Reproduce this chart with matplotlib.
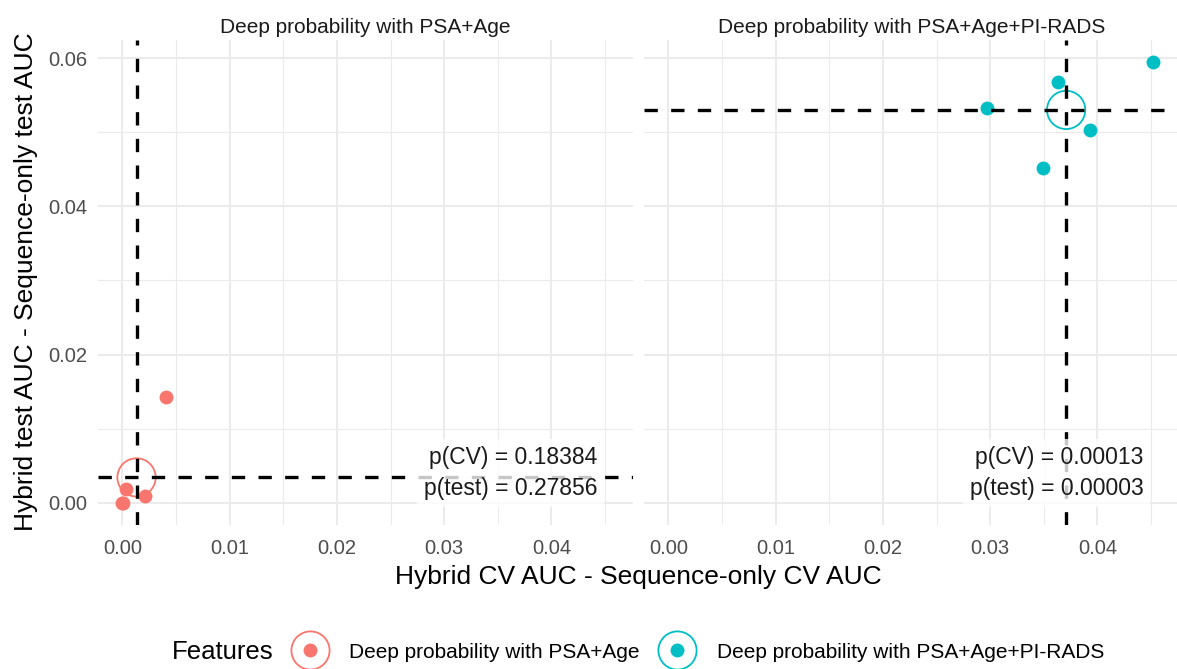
import matplotlib
matplotlib.use("Agg")
import matplotlib.pyplot as plt
from matplotlib.lines import Line2D
import numpy as np

plt.rcParams['font.family'] = ['Liberation Sans', 'DejaVu Sans']

# facet titles / legend labels
features = ['Deep probability with PSA+Age', 'Deep probability with PSA+Age+PI-RADS']
colors = ['#F8766D', '#00BFC4']

# per-fold AUC differences (hybrid minus sequence-only)
cv_diff_age = [0.0000, 0.0001, 0.0003, 0.0021, 0.0041]
test_diff_age = [0.0000, 0.0000, 0.0019, 0.0009, 0.0143]
cv_diff_pirads = [0.0297, 0.0349, 0.0363, 0.0393, 0.0452]
test_diff_pirads = [0.0533, 0.0452, 0.0567, 0.0503, 0.0595]

p_cv = ['0.18384', '0.00013']
p_test = ['0.27856', '0.00003']

x_ticks = [0.00, 0.01, 0.02, 0.03, 0.04]
y_ticks = [0.00, 0.02, 0.04, 0.06]

W, H = 1177, 669
fig = plt.figure(figsize=(W / 100, H / 100), dpi=100)

panel_left = [98, 644]
panel_w = 535
panel_top, panel_bot = 39.5, 525

cv_all = [cv_diff_age, cv_diff_pirads]
test_all = [test_diff_age, test_diff_pirads]

for i in range(2):
    ax = fig.add_axes([panel_left[i] / W, 1 - panel_bot / H,
                       panel_w / W, (panel_bot - panel_top) / H])
    cv = np.array(cv_all[i])
    te = np.array(test_all[i])

    # folds, then the mean as a big open circle with dashed cross-hairs
    ax.scatter(cv, te, s=100, color=colors[i], lw=0, zorder=3)
    ax.scatter([cv.mean()], [te.mean()], s=760, facecolor='none',
               edgecolor=colors[i], lw=1.3, zorder=3)
    ax.axvline(cv.mean(), color='black', lw=2.4, dashes=(4, 4), zorder=4)
    ax.axhline(te.mean(), color='black', lw=2.4, dashes=(4, 4), zorder=4)

    ax.text(0.0443, 0.0040, 'p(CV) = %s\np(test) = %s' % (p_cv[i], p_test[i]),
            ha='right', va='center', multialignment='right', fontsize=16.5,
            color='#1A1A1A', linespacing=1.45, zorder=5,
            bbox=dict(boxstyle='square,pad=0.3', facecolor='white',
                      alpha=0.78, edgecolor='none'))

    ax.set_xlim(-0.00227, 0.0476)
    ax.set_ylim(-0.003, 0.0625)
    ax.set_xticks(x_ticks)
    ax.set_xticklabels(['%.2f' % t for t in x_ticks])
    ax.set_xticks(np.arange(0.005, 0.046, 0.01), minor=True)
    ax.set_yticks(y_ticks)
    ax.set_yticks([0.01, 0.03, 0.05], minor=True)
    if i == 0:
        ax.set_yticklabels(['%.2f' % t for t in y_ticks])
    else:
        ax.set_yticklabels([])

    ax.tick_params(which='both', length=0, labelsize=14.5, labelcolor='#4D4D4D')
    ax.tick_params(axis='x', pad=10)
    ax.tick_params(axis='y', pad=8)
    ax.grid(which='major', color='#EBEBEB', lw=1.4)
    ax.grid(which='minor', color='#EBEBEB', lw=0.8)
    ax.set_axisbelow(True)
    for s in ax.spines.values():
        s.set_visible(False)

    ax.set_title(features[i], fontsize=15, color='#1A1A1A', pad=5)

fig.text(638 / W, 1 - 577 / H, 'Hybrid CV AUC - Sequence-only CV AUC',
         ha='center', va='center', fontsize=19, color='black')
fig.text(26 / W, 1 - 282 / H, 'Hybrid test AUC - Sequence-only test AUC',
         ha='center', va='center', rotation=90, fontsize=19, color='black')

# legend
fig.text(172 / W, 1 - 652 / H, 'Features', ha='left', va='center',
         fontsize=18.5, color='black')
handles = []
for c in colors:
    ring = Line2D([], [], ls='none', marker='o', markersize=27.5,
                  markerfacecolor='none', markeredgecolor=c, markeredgewidth=1.3)
    dot = Line2D([], [], ls='none', marker='o', markersize=10,
                 markerfacecolor=c, markeredgewidth=0)
    handles.append((ring, dot))
fig.legend(handles, features, loc='center left',
           bbox_to_anchor=(289 / W, 1 - 652 / H), ncol=2, frameon=False,
           fontsize=15, handlelength=2.0, handletextpad=0.9,
           columnspacing=0.8, borderpad=0, borderaxespad=0)

plt.savefig('out.png', dpi=100)
